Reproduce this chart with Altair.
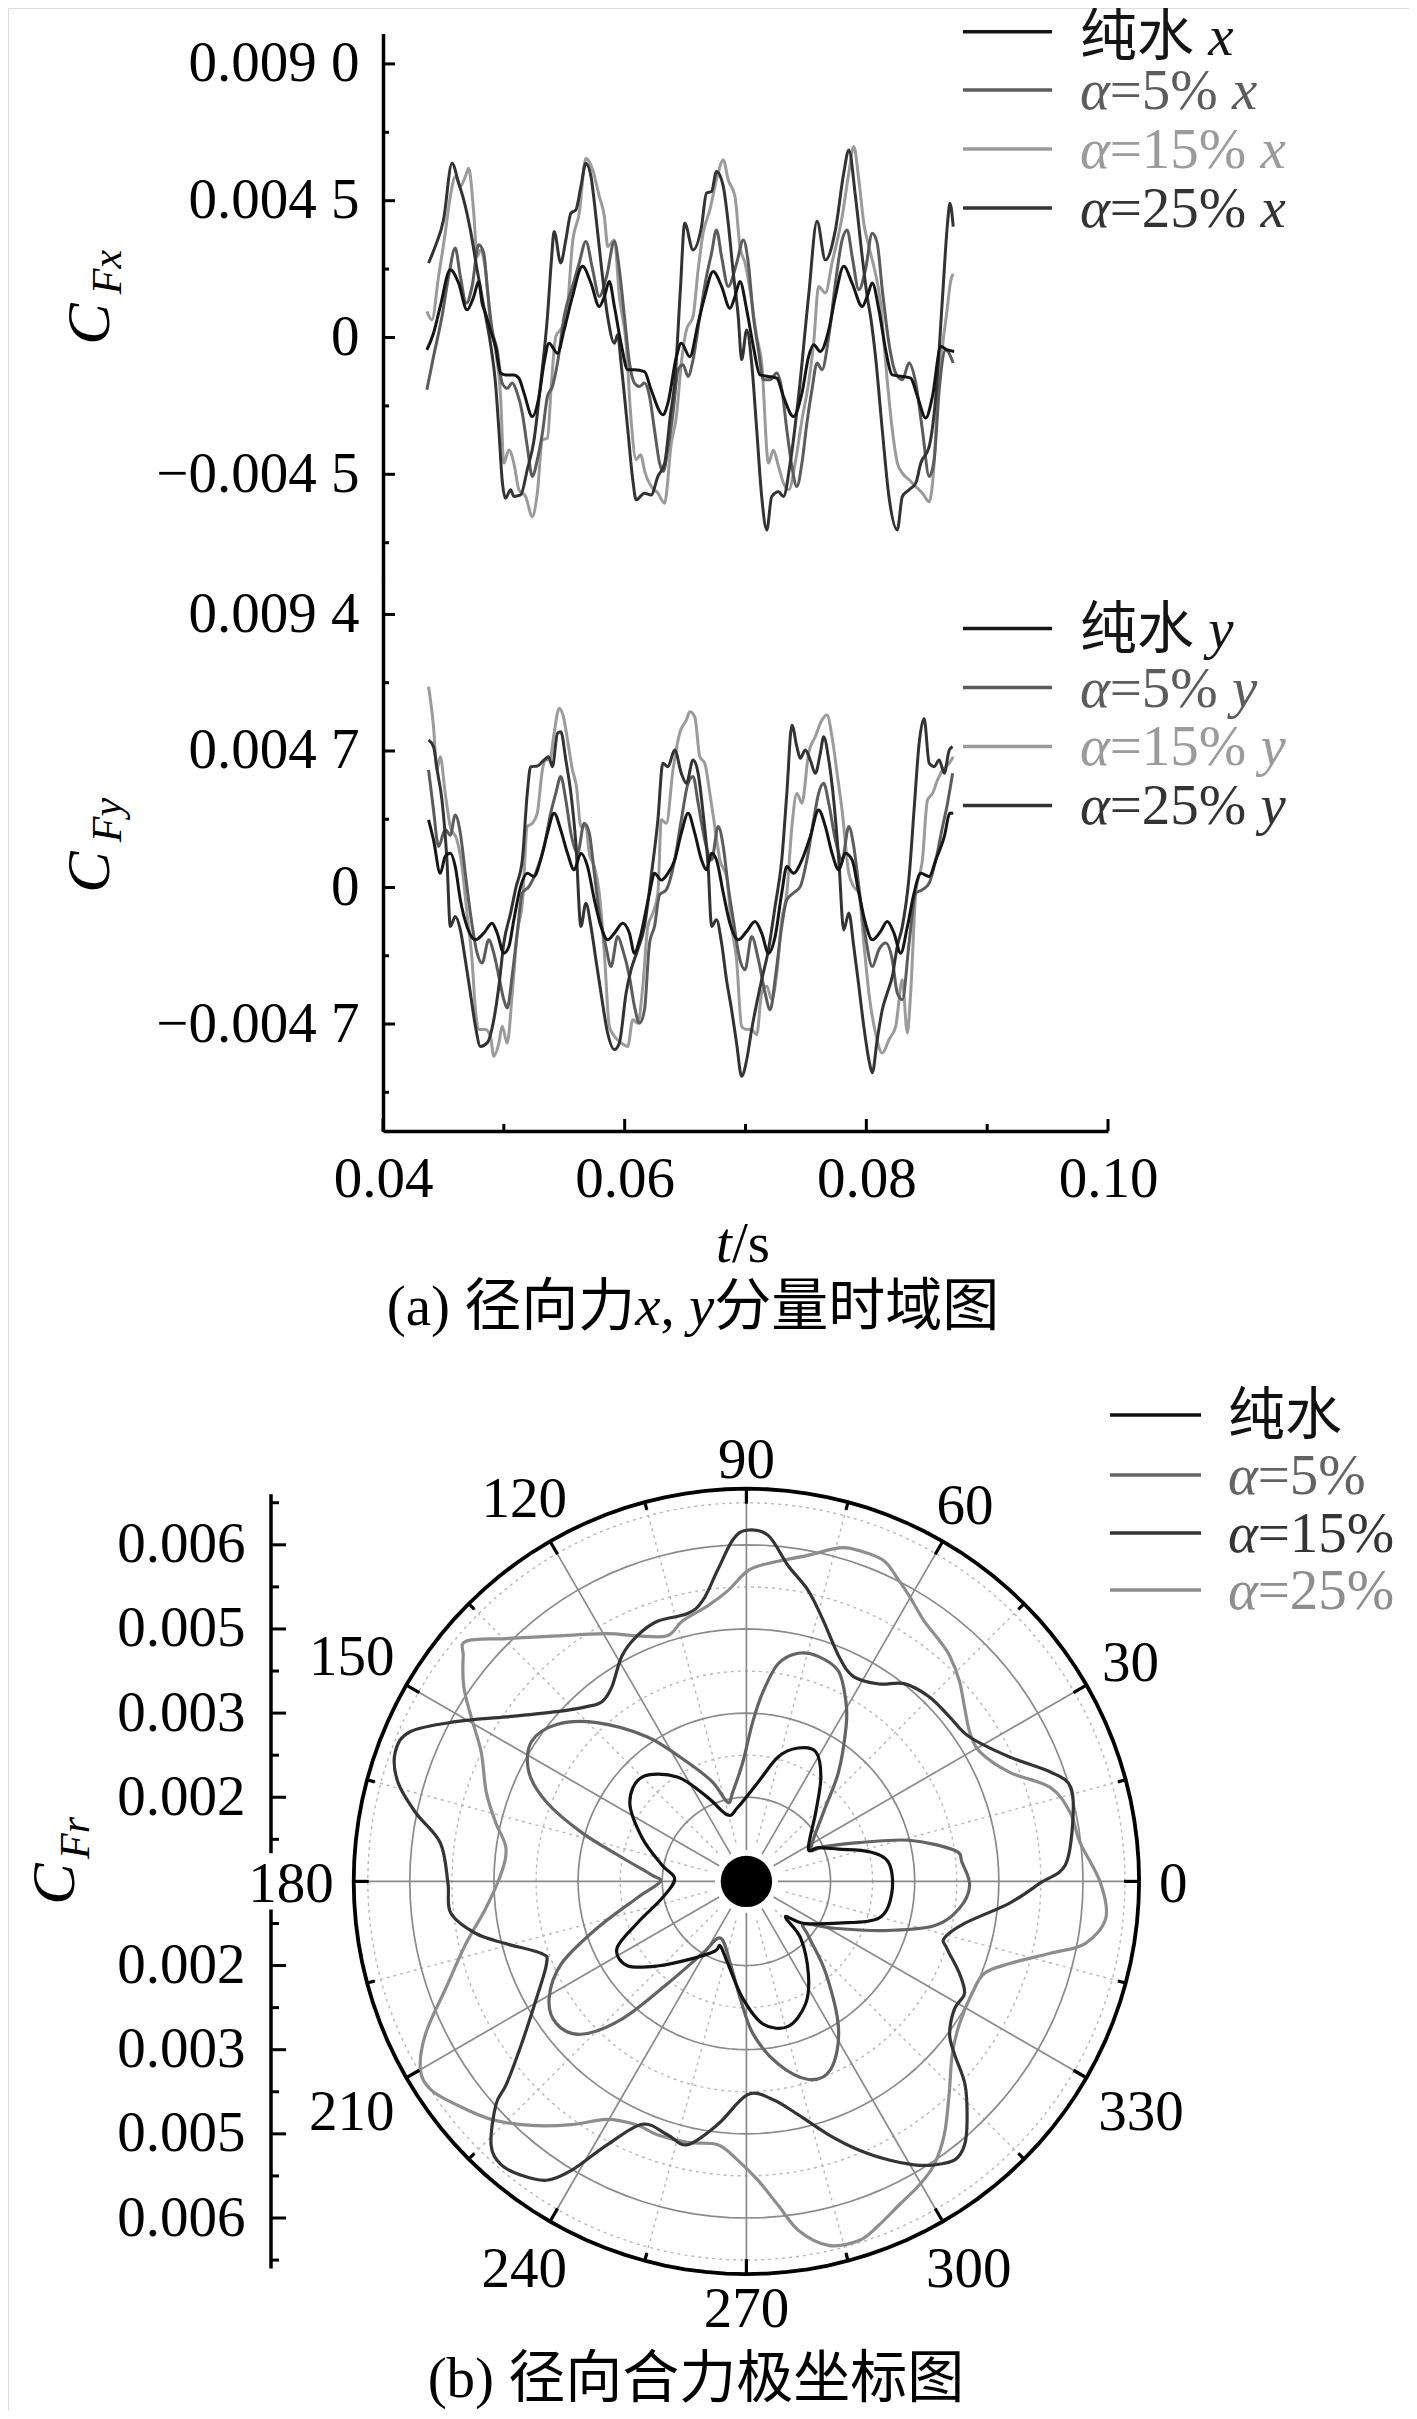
import altair as alt
import pandas as pd

# ---------------------------------------------------------------- data
# (a) time histories, pairs of (t [s], coefficient)
PURE_X = [(0.04363,-0.00041),(0.04418,0.00014),(0.04474,0.00102),(0.04557,0.00223),(0.04626,0.00179),(0.04695,0.00091),(0.04751,0.00135),(0.04792,0.00184),(0.04820,0.00113),(0.04848,0.00080),(0.04889,0.00025),(0.04931,-0.00030),(0.04973,-0.00117),(0.05014,-0.00123),(0.05083,-0.00123),(0.05125,-0.00134),(0.05167,-0.00183),(0.05236,-0.00260),(0.05291,-0.00194),(0.05333,-0.00084),(0.05374,-0.00019),(0.05444,-0.00052),(0.05499,0.00025),(0.05568,0.00135),(0.05651,0.00234),(0.05721,0.00179),(0.05790,0.00102),(0.05832,0.00135),(0.05873,0.00184),(0.05915,0.00102),(0.05970,-0.00019),(0.06026,-0.00106),(0.06081,-0.00106),(0.06164,-0.00112),(0.06219,-0.00172),(0.06317,-0.00254),(0.06358,-0.00216),(0.06428,-0.00063),(0.06469,-0.00019),(0.06539,-0.00063),(0.06608,0.00047),(0.06663,0.00135),(0.06732,0.00217),(0.06802,0.00168),(0.06871,0.00096),(0.06913,0.00135),(0.06954,0.00184),(0.07010,0.00091),(0.07065,-0.00030),(0.07120,-0.00123),(0.07190,-0.00128),(0.07259,-0.00134),(0.07314,-0.00194),(0.07397,-0.00260),(0.07467,-0.00183),(0.07522,-0.00063),(0.07564,-0.00024),(0.07619,-0.00046),(0.07689,0.00025),(0.07744,0.00135),(0.07813,0.00234),(0.07882,0.00179),(0.07966,0.00102),(0.08007,0.00135),(0.08049,0.00179),(0.08104,0.00091),(0.08160,-0.00041),(0.08215,-0.00123),(0.08298,-0.00128),(0.08367,-0.00134),(0.08423,-0.00194),(0.08492,-0.00265),(0.08547,-0.00194),(0.08617,-0.00030),(0.08672,-0.00041),(0.08727,-0.00046)]
A5_X = [(0.04363,-0.00172),(0.04418,-0.00063),(0.04488,0.00069),(0.04543,0.00201),(0.04598,0.00294),(0.04640,0.00201),(0.04690,0.00113),(0.04737,0.00168),(0.04792,0.00305),(0.04834,0.00277),(0.04862,0.00168),(0.04903,0.00025),(0.04945,-0.00041),(0.04986,-0.00150),(0.05028,-0.00167),(0.05070,-0.00150),(0.05111,-0.00183),(0.05153,-0.00249),(0.05194,-0.00359),(0.05236,-0.00457),(0.05277,-0.00402),(0.05319,-0.00315),(0.05361,-0.00194),(0.05402,-0.00161),(0.05444,-0.00084),(0.05499,0.00069),(0.05568,0.00168),(0.05624,0.00245),(0.05679,0.00316),(0.05735,0.00223),(0.05790,0.00135),(0.05850,0.00200),(0.05915,0.00316),(0.05956,0.00223),(0.05998,0.00069),(0.06040,-0.00084),(0.06081,-0.00150),(0.06123,-0.00161),(0.06164,-0.00150),(0.06206,-0.00194),(0.06247,-0.00304),(0.06289,-0.00413),(0.06320,-0.00440),(0.06360,-0.00360),(0.06400,-0.00249),(0.06442,-0.00106),(0.06483,-0.00090),(0.06525,-0.00128),(0.06566,-0.00073),(0.06622,0.00069),(0.06677,0.00201),(0.06719,0.00277),(0.06760,0.00354),(0.06802,0.00266),(0.06857,0.00168),(0.06927,0.00245),(0.06982,0.00321),(0.07023,0.00245),(0.07065,0.00069),(0.07107,-0.00041),(0.07148,-0.00139),(0.07204,-0.00139),(0.07259,-0.00117),(0.07301,-0.00172),(0.07342,-0.00304),(0.07384,-0.00424),(0.07425,-0.00490),(0.07467,-0.00413),(0.07508,-0.00282),(0.07550,-0.00172),(0.07592,-0.00084),(0.07633,-0.00106),(0.07689,0.00003),(0.07744,0.00179),(0.07800,0.00321),(0.07841,0.00354),(0.07883,0.00266),(0.07938,0.00157),(0.07993,0.00223),(0.08049,0.00343),(0.08090,0.00310),(0.08132,0.00157),(0.08187,-0.00019),(0.08243,-0.00117),(0.08298,-0.00139),(0.08354,-0.00084),(0.08409,-0.00150),(0.08464,-0.00304),(0.08520,-0.00457),(0.08561,-0.00402),(0.08603,-0.00172),(0.08658,-0.00041),(0.08719,-0.00084)]
A15_X = [(0.04363,0.00086),(0.04405,0.00058),(0.04460,0.00201),(0.04515,0.00343),(0.04557,0.00464),(0.04600,0.00530),(0.04640,0.00497),(0.04682,0.00530),(0.04709,0.00557),(0.04751,0.00409),(0.04779,0.00266),(0.04806,0.00288),(0.04848,0.00223),(0.04889,0.00047),(0.04931,-0.00041),(0.04973,-0.00194),(0.05000,-0.00413),(0.05042,-0.00370),(0.05083,-0.00413),(0.05125,-0.00501),(0.05180,-0.00523),(0.05236,-0.00589),(0.05277,-0.00512),(0.05319,-0.00337),(0.05361,-0.00331),(0.05394,-0.00150),(0.05430,0.00003),(0.05485,0.00036),(0.05527,0.00102),(0.05568,0.00310),(0.05624,0.00409),(0.05679,0.00590),(0.05735,0.00552),(0.05790,0.00464),(0.05832,0.00398),(0.05860,0.00299),(0.05915,0.00321),(0.05956,0.00135),(0.06012,-0.00019),(0.06053,-0.00271),(0.06095,-0.00402),(0.06131,-0.00386),(0.06170,-0.00446),(0.06220,-0.00490),(0.06275,-0.00512),(0.06330,-0.00545),(0.06386,-0.00348),(0.06428,-0.00260),(0.06469,-0.00084),(0.06511,0.00025),(0.06566,0.00069),(0.06608,0.00223),(0.06649,0.00343),(0.06705,0.00420),(0.06760,0.00519),(0.06816,0.00584),(0.06857,0.00519),(0.06913,0.00464),(0.06954,0.00299),(0.06996,0.00245),(0.07040,0.00150),(0.07093,0.00003),(0.07134,-0.00084),(0.07190,-0.00413),(0.07231,-0.00370),(0.07273,-0.00424),(0.07314,-0.00479),(0.07360,-0.00500),(0.07411,-0.00413),(0.07467,-0.00271),(0.07522,-0.00150),(0.07564,-0.00019),(0.07605,0.00168),(0.07661,0.00146),(0.07716,0.00245),(0.07800,0.00398),(0.07855,0.00541),(0.07896,0.00628),(0.07938,0.00519),(0.07979,0.00376),(0.08021,0.00299),(0.08070,0.00220),(0.08118,0.00113),(0.08160,-0.00084),(0.08215,-0.00304),(0.08257,-0.00413),(0.08298,-0.00446),(0.08354,-0.00468),(0.08409,-0.00490),(0.08464,-0.00512),(0.08520,-0.00540),(0.08560,-0.00420),(0.08590,-0.00200),(0.08630,-0.00030),(0.08665,0.00080),(0.08700,0.00190),(0.08719,0.00210)]
A25_X = [(0.04377,0.00245),(0.04432,0.00299),(0.04501,0.00387),(0.04571,0.00573),(0.04626,0.00508),(0.04668,0.00453),(0.04723,0.00354),(0.04779,0.00223),(0.04834,0.00102),(0.04889,-0.00019),(0.04931,-0.00150),(0.04959,-0.00304),(0.04986,-0.00468),(0.05014,-0.00529),(0.05056,-0.00501),(0.05083,-0.00523),(0.05139,-0.00518),(0.05194,-0.00435),(0.05250,-0.00337),(0.05305,-0.00150),(0.05361,0.00069),(0.05394,0.00255),(0.05416,0.00349),(0.05471,0.00245),(0.05513,0.00321),(0.05555,0.00409),(0.05596,0.00420),(0.05638,0.00497),(0.05679,0.00573),(0.05721,0.00530),(0.05762,0.00398),(0.05804,0.00245),(0.05859,0.00069),(0.05915,-0.00019),(0.05942,0.00009),(0.05970,-0.00084),(0.06026,-0.00304),(0.06067,-0.00468),(0.06095,-0.00534),(0.06164,-0.00512),(0.06219,-0.00518),(0.06275,-0.00457),(0.06331,-0.00413),(0.06380,-0.00250),(0.06414,-0.00150),(0.06460,0.00150),(0.06497,0.00376),(0.06566,0.00288),(0.06636,0.00365),(0.06677,0.00475),(0.06719,0.00480),(0.06760,0.00546),(0.06816,0.00497),(0.06857,0.00376),(0.06899,0.00212),(0.06940,0.00069),(0.06968,-0.00073),(0.07010,0.00025),(0.07051,-0.00084),(0.07093,-0.00304),(0.07134,-0.00523),(0.07176,-0.00633),(0.07217,-0.00523),(0.07273,-0.00507),(0.07314,-0.00523),(0.07370,-0.00413),(0.07439,-0.00194),(0.07522,0.00135),(0.07592,0.00382),(0.07661,0.00255),(0.07744,0.00354),(0.07813,0.00541),(0.07855,0.00617),(0.07910,0.00464),(0.07966,0.00266),(0.08007,0.00135),(0.08035,0.00069),(0.08076,-0.00063),(0.08132,-0.00304),(0.08187,-0.00523),(0.08256,-0.00633),(0.08298,-0.00523),(0.08354,-0.00501),(0.08409,-0.00479),(0.08451,-0.00413),(0.08520,-0.00359),(0.08575,-0.00194),(0.08631,0.00135),(0.08672,0.00376),(0.08692,0.00442),(0.08719,0.00365)]

PURE_Y = [(0.04377,0.00233),(0.04418,0.00164),(0.04474,0.00049),(0.04515,0.00107),(0.04557,0.00118),(0.04598,0.00072),(0.04640,-0.00042),(0.04695,-0.00134),(0.04765,-0.00180),(0.04834,-0.00157),(0.04903,-0.00123),(0.04945,-0.00157),(0.05000,-0.00226),(0.05042,-0.00203),(0.05083,-0.00111),(0.05139,0.00003),(0.05194,0.00049),(0.05250,0.00038),(0.05305,0.00095),(0.05361,0.00187),(0.05416,0.00256),(0.05471,0.00198),(0.05527,0.00118),(0.05582,0.00061),(0.05638,0.00118),(0.05693,0.00072),(0.05749,-0.00042),(0.05804,-0.00134),(0.05859,-0.00180),(0.05915,-0.00157),(0.05984,-0.00123),(0.06039,-0.00157),(0.06081,-0.00226),(0.06123,-0.00180),(0.06206,-0.00019),(0.06247,0.00049),(0.06303,0.00026),(0.06358,0.00049),(0.06414,0.00095),(0.06469,0.00187),(0.06525,0.00256),(0.06580,0.00187),(0.06636,0.00095),(0.06677,0.00061),(0.06719,0.00118),(0.06760,0.00095),(0.06816,-0.00019),(0.06871,-0.00123),(0.06940,-0.00180),(0.07010,-0.00151),(0.07079,-0.00117),(0.07134,-0.00157),(0.07190,-0.00226),(0.07245,-0.00169),(0.07300,-0.00019),(0.07342,0.00072),(0.07397,0.00049),(0.07467,0.00095),(0.07536,0.00175),(0.07605,0.00267),(0.07661,0.00210),(0.07716,0.00118),(0.07772,0.00061),(0.07827,0.00118),(0.07882,0.00095),(0.07938,-0.00019),(0.07993,-0.00123),(0.08049,-0.00180),(0.08118,-0.00151),(0.08173,-0.00117),(0.08229,-0.00157),(0.08284,-0.00226),(0.08340,-0.00134),(0.08395,-0.00019),(0.08451,0.00049),(0.08520,0.00038),(0.08575,0.00095),(0.08645,0.00175),(0.08692,0.00256),(0.08719,0.00256)]
A5_Y = [(0.04377,0.00405),(0.04418,0.00267),(0.04460,0.00141),(0.04515,0.00200),(0.04557,0.00180),(0.04598,0.00250),(0.04640,0.00187),(0.04681,0.00049),(0.04723,-0.00088),(0.04779,-0.00226),(0.04820,-0.00260),(0.04875,-0.00180),(0.04917,-0.00226),(0.04959,-0.00306),(0.05000,-0.00386),(0.05028,-0.00415),(0.05070,-0.00300),(0.05111,-0.00157),(0.05153,-0.00019),(0.05208,0.00003),(0.05263,0.00049),(0.05333,0.00141),(0.05388,0.00256),(0.05430,0.00324),(0.05471,0.00382),(0.05513,0.00301),(0.05555,0.00187),(0.05610,0.00118),(0.05665,0.00221),(0.05707,0.00187),(0.05749,0.00049),(0.05790,-0.00088),(0.05845,-0.00203),(0.05887,-0.00272),(0.05942,-0.00169),(0.05984,-0.00214),(0.06039,-0.00306),(0.06081,-0.00409),(0.06123,-0.00467),(0.06164,-0.00421),(0.06206,-0.00191),(0.06247,-0.00134),(0.06289,-0.00025),(0.06344,-0.00008),(0.06414,0.00095),(0.06469,0.00233),(0.06525,0.00359),(0.06566,0.00382),(0.06608,0.00290),(0.06663,0.00164),(0.06719,0.00095),(0.06774,0.00210),(0.06816,0.00141),(0.06857,0.00003),(0.06899,-0.00111),(0.06954,-0.00249),(0.06996,-0.00283),(0.07051,-0.00169),(0.07107,-0.00249),(0.07162,-0.00363),(0.07204,-0.00421),(0.07250,-0.00300),(0.07300,-0.00134),(0.07342,-0.00042),(0.07397,-0.00019),(0.07453,0.00003),(0.07508,0.00095),(0.07564,0.00233),(0.07605,0.00324),(0.07647,0.00359),(0.07689,0.00290),(0.07744,0.00164),(0.07799,0.00095),(0.07855,0.00210),(0.07896,0.00141),(0.07938,0.00003),(0.07993,-0.00169),(0.08049,-0.00272),(0.08104,-0.00214),(0.08160,-0.00191),(0.08215,-0.00249),(0.08256,-0.00363),(0.08298,-0.00386),(0.08354,-0.00191),(0.08409,-0.00019),(0.08464,-0.00008),(0.08520,0.00015),(0.08575,0.00095),(0.08631,0.00210),(0.08672,0.00290),(0.08714,0.00393)]
A15_Y = [(0.04377,0.00691),(0.04418,0.00554),(0.04446,0.00405),(0.04474,0.00450),(0.04515,0.00324),(0.04557,0.00210),(0.04612,0.00164),(0.04654,0.00072),(0.04695,-0.00088),(0.04737,-0.00249),(0.04765,-0.00421),(0.04792,-0.00489),(0.04848,-0.00489),(0.04889,-0.00512),(0.04917,-0.00581),(0.04959,-0.00535),(0.04986,-0.00478),(0.05028,-0.00535),(0.05070,-0.00363),(0.05111,-0.00157),(0.05153,-0.00054),(0.05194,0.00210),(0.05236,0.00221),(0.05277,0.00256),(0.05319,0.00405),(0.05347,0.00439),(0.05380,0.00440),(0.05416,0.00531),(0.05458,0.00617),(0.05499,0.00577),(0.05527,0.00508),(0.05568,0.00405),(0.05600,0.00350),(0.05638,0.00210),(0.05679,0.00210),(0.05707,0.00118),(0.05749,0.00072),(0.05790,-0.00019),(0.05832,-0.00226),(0.05873,-0.00478),(0.05915,-0.00512),(0.05970,-0.00535),(0.06026,-0.00547),(0.06067,-0.00455),(0.06109,-0.00467),(0.06150,-0.00340),(0.06192,-0.00134),(0.06233,-0.00088),(0.06275,-0.00019),(0.06303,0.00233),(0.06345,0.00221),(0.06400,0.00405),(0.06455,0.00531),(0.06511,0.00577),(0.06539,0.00605),(0.06580,0.00588),(0.06622,0.00450),(0.06663,0.00428),(0.06705,0.00324),(0.06746,0.00210),(0.06788,0.00095),(0.06843,0.00038),(0.06885,-0.00134),(0.06926,-0.00249),(0.06968,-0.00478),(0.07010,-0.00489),(0.07051,-0.00489),(0.07093,-0.00507),(0.07134,-0.00363),(0.07176,-0.00340),(0.07217,-0.00386),(0.07259,-0.00295),(0.07300,-0.00111),(0.07342,-0.00019),(0.07384,0.00210),(0.07425,0.00324),(0.07467,0.00290),(0.07522,0.00462),(0.07577,0.00519),(0.07633,0.00577),(0.07675,0.00594),(0.07716,0.00519),(0.07758,0.00393),(0.07799,0.00267),(0.07855,0.00049),(0.07896,0.00003),(0.07938,-0.00019),(0.07979,-0.00191),(0.08021,-0.00363),(0.08076,-0.00501),(0.08132,-0.00570),(0.08187,-0.00524),(0.08243,-0.00478),(0.08298,-0.00318),(0.08339,-0.00501),(0.08367,-0.00363),(0.08409,-0.00019),(0.08464,0.00095),(0.08506,0.00301),(0.08548,0.00324),(0.08589,0.00370),(0.08631,0.00405),(0.08686,0.00428),(0.08719,0.00450)]
A25_Y = [(0.04377,0.00508),(0.04418,0.00485),(0.04450,0.00400),(0.04488,0.00301),(0.04529,0.00095),(0.04557,-0.00134),(0.04598,-0.00100),(0.04640,-0.00146),(0.04681,-0.00249),(0.04723,-0.00363),(0.04765,-0.00478),(0.04806,-0.00547),(0.04862,-0.00535),(0.04917,-0.00455),(0.04959,-0.00340),(0.05000,-0.00191),(0.05056,-0.00088),(0.05100,0.00000),(0.05153,0.00095),(0.05194,0.00324),(0.05222,0.00416),(0.05277,0.00418),(0.05333,0.00439),(0.05370,0.00450),(0.05402,0.00416),(0.05444,0.00531),(0.05472,0.00536),(0.05513,0.00439),(0.05555,0.00324),(0.05596,0.00152),(0.05638,-0.00134),(0.05679,-0.00054),(0.05721,-0.00134),(0.05762,-0.00249),(0.05804,-0.00363),(0.05859,-0.00501),(0.05915,-0.00558),(0.05956,-0.00535),(0.06012,-0.00363),(0.06053,-0.00283),(0.06109,-0.00214),(0.06164,-0.00134),(0.06219,0.00038),(0.06275,0.00233),(0.06316,0.00428),(0.06358,0.00416),(0.06414,0.00473),(0.06469,0.00393),(0.06511,0.00359),(0.06566,0.00439),(0.06608,0.00393),(0.06649,0.00256),(0.06691,0.00072),(0.06719,-0.00134),(0.06760,-0.00111),(0.06802,-0.00191),(0.06843,-0.00318),(0.06885,-0.00421),(0.06926,-0.00535),(0.06968,-0.00650),(0.07010,-0.00593),(0.07051,-0.00489),(0.07093,-0.00398),(0.07134,-0.00318),(0.07190,-0.00214),(0.07245,-0.00065),(0.07300,0.00095),(0.07342,0.00324),(0.07384,0.00559),(0.07425,0.00485),(0.07453,0.00445),(0.07495,0.00473),(0.07536,0.00439),(0.07578,0.00393),(0.07619,0.00462),(0.07647,0.00519),(0.07689,0.00439),(0.07730,0.00301),(0.07772,0.00095),(0.07813,-0.00146),(0.07855,-0.00088),(0.07896,-0.00203),(0.07938,-0.00340),(0.07979,-0.00478),(0.08021,-0.00593),(0.08049,-0.00638),(0.08090,-0.00524),(0.08132,-0.00421),(0.08173,-0.00363),(0.08215,-0.00306),(0.08256,-0.00203),(0.08298,-0.00134),(0.08354,0.00038),(0.08395,0.00267),(0.08437,0.00496),(0.08478,0.00582),(0.08520,0.00428),(0.08561,0.00416),(0.08603,0.00439),(0.08645,0.00393),(0.08686,0.00473),(0.08714,0.00485)]

# (b) polar: angle [deg] and radial coefficient C_Fr
PURE_ANG = [7.4,13.6,19.3,25.1,27.9,44.8,54.4,61.8,68.8,75.7,83.3,96.6,105.7,114.8,123.5,135.0,145.9,157.2,169.2,178.0,191.2,200.9,207.4,215.3,223.5,235.0,245.8,247.9,257.2,268.3,276.7,286.1,295.9,303.9,313.7,317.7,323.7,335.6,344.5,355.4]
PURE_R = [0.00256,0.00225,0.00174,0.00142,0.00125,0.00174,0.00228,0.00262,0.00255,0.00229,0.00178,0.00133,0.00123,0.00165,0.00223,0.00263,0.00251,0.00202,0.00153,0.00128,0.00153,0.00208,0.00260,0.00260,0.00219,0.00168,0.00136,0.00124,0.00150,0.00209,0.00256,0.00269,0.00242,0.00198,0.00140,0.00094,0.00126,0.00180,0.00245,0.00260]
A5_ANG = [4.9,8.5,14.2,19.0,24.3,26.9,41.8,49.9,57.2,61.0,66.3,72.3,77.2,81.7,85.0,87.7,91.7,98.7,103.3,108.8,116.3,124.5,133.3,140.4,147.0,153.3,158.4,163.5,169.2,176.3,180.3,188.6,197.4,204.0,210.7,216.9,222.8,227.9,232.3,238.7,245.3,258.9,267.0,272.5,279.8,287.4,294.2,302.0,310.8,318.7,323.5,331.7,340.3,346.7,352.9,359.0]
A5_R = [0.00386,0.00375,0.00299,0.00212,0.00151,0.00129,0.00184,0.00255,0.00328,0.00366,0.00409,0.00421,0.00417,0.00392,0.00339,0.00285,0.00213,0.00161,0.00145,0.00187,0.00237,0.00313,0.00389,0.00439,0.00457,0.00434,0.00383,0.00306,0.00225,0.00168,0.00154,0.00197,0.00279,0.00361,0.00409,0.00423,0.00401,0.00330,0.00231,0.00150,0.00111,0.00149,0.00209,0.00272,0.00330,0.00370,0.00367,0.00310,0.00217,0.00147,0.00128,0.00176,0.00260,0.00344,0.00383,0.00398]
A15_ANG = [2.9,10.2,16.2,19.8,25.3,32.9,39.1,45.3,51.4,56.1,62.4,67.7,73.5,78.0,82.5,86.4,90.0,92.3,95.3,98.9,102.4,108.9,114.0,118.9,124.6,128.8,132.4,138.2,145.6,151.2,156.0,159.8,164.1,168.2,172.8,180.3,186.1,190.9,194.5,199.4,202.3,209.2,215.9,220.2,221.7,225.9,229.1,232.5,236.2,238.8,242.1,246.8,252.7,257.4,263.3,270.4,277.0,282.5,288.0,292.7,297.1,300.6,303.5,306.8,309.6,312.8,317.1,320.3,323.1,328.5,332.8,336.6,341.5,344.0,349.1,355.3,359.7]
A15_R = [0.00569,0.00591,0.00602,0.00576,0.00519,0.00474,0.00466,0.00463,0.00451,0.00424,0.00412,0.00434,0.00484,0.00530,0.00568,0.00618,0.00626,0.00609,0.00557,0.00506,0.00489,0.00490,0.00479,0.00459,0.00422,0.00411,0.00422,0.00454,0.00519,0.00591,0.00656,0.00667,0.00646,0.00603,0.00550,0.00532,0.00530,0.00491,0.00443,0.00387,0.00385,0.00429,0.00495,0.00560,0.00598,0.00654,0.00668,0.00660,0.00641,0.00602,0.00532,0.00471,0.00473,0.00481,0.00436,0.00380,0.00392,0.00426,0.00475,0.00519,0.00558,0.00587,0.00606,0.00620,0.00610,0.00579,0.00532,0.00482,0.00453,0.00435,0.00437,0.00414,0.00377,0.00367,0.00396,0.00471,0.00524]
A25_ANG = [6.6,12.0,17.2,22.5,29.0,33.8,38.7,43.2,47.9,51.2,55.7,60.3,63.1,66.8,71.3,74.5,79.2,86.1,89.7,93.7,98.0,103.8,107.9,114.0,119.4,127.7,134.7,139.4,141.5,145.4,149.1,154.0,161.1,166.8,172.0,178.0,185.9,192.5,199.6,205.4,210.0,213.4,217.5,223.0,228.6,234.3,239.6,245.8,250.6,257.3,263.8,268.2,272.2,275.6,278.5,282.7,287.4,291.0,295.2,299.6,303.5,308.0,313.6,320.0,326.2,333.5,338.9,342.7,346.7,349.6,354.2,359.8]
A25_R = [0.00599,0.00590,0.00567,0.00508,0.00476,0.00479,0.00498,0.00521,0.00541,0.00550,0.00562,0.00586,0.00601,0.00622,0.00623,0.00617,0.00592,0.00568,0.00554,0.00519,0.00496,0.00478,0.00460,0.00479,0.00507,0.00553,0.00609,0.00658,0.00645,0.00612,0.00572,0.00526,0.00490,0.00459,0.00433,0.00437,0.00467,0.00512,0.00569,0.00633,0.00671,0.00674,0.00653,0.00622,0.00580,0.00534,0.00492,0.00476,0.00479,0.00477,0.00472,0.00497,0.00533,0.00580,0.00629,0.00665,0.00671,0.00657,0.00638,0.00623,0.00606,0.00573,0.00524,0.00479,0.00457,0.00449,0.00455,0.00492,0.00557,0.00614,0.00644,0.00631]

# axis tick values
UP_MAJOR = [0.009, 0.0045, 0.0, -0.0045]
UP_MINOR = [0.00675, 0.00225, -0.00225, -0.00675]
LO_MAJOR = [0.0094, 0.0047, 0.0, -0.0047]
LO_MINOR = [0.00705, 0.00235, -0.00235, -0.00705]
T_MAJOR = [0.04, 0.06, 0.08, 0.10]
T_MINOR = [0.05, 0.07, 0.09]
R_MAJOR = [0.0015, 0.003, 0.0045, 0.006]
R_MINOR = [0.00075, 0.00225, 0.00375, 0.00525, 0.00675]
ANGLE_LABELS = list(range(0, 360, 30))

NAMES = ["纯水", "α=5%", "α=15%", "α=25%"]
TS_COLORS = ["#151515", "#5c5c5c", "#9b9b9b", "#333333"]
POLAR_COLORS = ["#111111", "#636363", "#343434", "#8d8d8d"]

# ---------------------------------------------------------------- layout
W, H = 1401, 2403
SERIF = "Liberation Serif"
MIX = "'Liberation Serif', 'Noto Sans CJK SC'"
FS = 57
PX_PER_UNIT = 56100.0  # polar pixels per unit of C_Fr

T_SCALE = alt.Scale(domain=[0.04, 0.10], range=[375, 1100], nice=False, zero=False)
YU_SCALE = alt.Scale(domain=[-0.008, 0.010], range=[572.7, 25.5], nice=False, zero=False)
YL_SCALE = alt.Scale(domain=[-0.0084, 0.0106], range=[1123.5, 571.6], nice=False, zero=False)
PX_SCALE = alt.Scale(domain=[-0.007, 0.007], range=[345.7, 1131.1], nice=False, zero=False)
PY_SCALE = alt.Scale(domain=[-0.007, 0.007], range=[2266.1, 1480.7], nice=False, zero=False)

ONE = alt.Data(values=[{"k": 1}])

Y_EXPR = ("datum.value == 0 ? '0' : (datum.value < 0 ? '\u2212' : '') + "
          "substring(format(abs(datum.value), '.4f'), 0, 5) + ' ' + "
          "substring(format(abs(datum.value), '.4f'), 5)")


def left_axis(values, offset, expr, padding, domain=True):
    return alt.Axis(orient="left", offset=offset, values=values, labelExpr=expr,
                    ticks=False, tickSize=0, domain=domain, domainColor="black",
                    domainWidth=3.5, grid=False, title=None, labelFont=SERIF,
                    labelFontSize=FS, labelColor="black", labelPadding=padding,
                    labelFlush=False, labelOverlap=False, labelBound=False,
                    labelLimit=1000)


def ts_frame(groups):
    rows = []
    for name, pairs in groups:
        for i, (t, v) in enumerate(pairs):
            rows.append({"series": name, "t": t, "v": v, "i": i})
    return pd.DataFrame(rows)


def polar_frame(groups):
    rows = []
    for name, angs, rs in groups:
        for i, (a, r) in enumerate(zip(angs, rs)):
            rows.append({"series": name, "a": a, "r": r, "i": i})
    return pd.DataFrame(rows)


CW = {"=": 0.564, "%": 0.833, " ": 0.25, ",": 0.25, "(": 0.333, ")": 0.333,
      "a": 0.444, "b": 0.5, "/": 0.278, "s": 0.389, "α": 0.52, "x": 0.444,
      "y": 0.444, "t": 0.278}


def text_width(s, size):
    w = 0.0
    for c in s:
        if c in CW:
            w += CW[c]
        elif c.isdigit():
            w += 0.5
        else:
            w += 1.0
    return w * size


def text_layer(s, x, y, size=FS, italic=False, color="black", align="left",
               baseline="middle", angle=None, font=MIX):
    kw = dict(font=font, fontSize=size, color=color, align=align, baseline=baseline)
    if italic:
        kw["fontStyle"] = "italic"
    if angle is not None:
        kw["angle"] = angle
    return alt.Chart(ONE).mark_text(**kw).encode(
        x=alt.value(x), y=alt.value(y), text=alt.value(s))


def rich_text(parts, x, y, color="black", size=FS, center=False):
    total = sum(text_width(p, size) for p, _ in parts)
    cur = x - total / 2 if center else x
    out = []
    for p, it in parts:
        out.append(text_layer(p, cur, y, size=size, italic=it, color=color))
        cur += text_width(p, size)
    return out


layers = []

# ---------------- (a) upper: x component
upper_df = ts_frame([("α=15%", A15_X), ("α=5%", A5_X), ("α=25%", A25_X), ("纯水", PURE_X)])
layers.append(
    alt.Chart(upper_df).mark_line(strokeWidth=3, interpolate="monotone", strokeJoin="round").encode(
        x=alt.X("t:Q", scale=T_SCALE, axis=None),
        y=alt.Y("v:Q", scale=YU_SCALE, axis=left_axis(UP_MAJOR, -375, Y_EXPR, 24)),
        color=alt.Color("series:N", scale=alt.Scale(domain=NAMES, range=TS_COLORS), legend=None),
        detail="series:N",
    )
)

# ---------------- (a) lower: y component
lower_df = ts_frame([("α=15%", A15_Y), ("α=5%", A5_Y), ("α=25%", A25_Y), ("纯水", PURE_Y)])
layers.append(
    alt.Chart(lower_df).mark_line(strokeWidth=3, interpolate="monotone", strokeJoin="round").encode(
        x=alt.X("t:Q", scale=T_SCALE, axis=alt.Axis(
            orient="bottom", offset=-(H - 1123), values=T_MAJOR,
            labelExpr="format(datum.value, '.2f')", ticks=False, tickSize=0,
            domainColor="black", domainWidth=3.5, grid=False, title=None,
            labelFont=SERIF, labelFontSize=FS, labelColor="black", labelPadding=20,
            labelFlush=False, labelOverlap=False, labelBound=False, labelLimit=1000)),
        y=alt.Y("v:Q", scale=YL_SCALE, axis=left_axis(LO_MAJOR, -375, Y_EXPR, 24)),
        color=alt.Color("series:N", scale=alt.Scale(domain=NAMES, range=TS_COLORS), legend=None),
        detail="series:N",
    )
)


def yticks(vals, scale, x0, length):
    return alt.Chart(pd.DataFrame({"v": vals})).mark_rule(color="black", strokeWidth=3).encode(
        y=alt.Y("v:Q", scale=scale, axis=None), x=alt.value(x0), x2=alt.value(x0 + length))


layers += [yticks(UP_MAJOR, YU_SCALE, 375, 12), yticks(UP_MINOR, YU_SCALE, 375, 6),
           yticks(LO_MAJOR, YL_SCALE, 375, 12), yticks(LO_MINOR, YL_SCALE, 375, 6)]


def xticks(vals, length):
    return alt.Chart(pd.DataFrame({"t": vals})).mark_rule(color="black", strokeWidth=3).encode(
        x=alt.X("t:Q", scale=T_SCALE, axis=None), y=alt.value(1123), y2=alt.value(1123 - length))


layers += [xticks(T_MAJOR, 12), xticks(T_MINOR, 7)]

# axis titles C_Fx, C_Fy
layers += [text_layer("C", 82, 316, size=62, italic=True, angle=270, align="center", font=SERIF),
           text_layer("Fx", 100, 264, size=42, italic=True, angle=270, align="center", font=SERIF),
           text_layer("C", 82, 864, size=62, italic=True, angle=270, align="center", font=SERIF),
           text_layer("Fy", 100, 812, size=42, italic=True, angle=270, align="center", font=SERIF)]

# legends of (a)
UP_Y = [23.7, 82, 141, 200]
LO_Y = [620.6, 679.5, 738.4, 797.4]
for ys, comp in ((UP_Y, "x"), (LO_Y, "y")):
    for k, (name, col) in enumerate(zip(NAMES, TS_COLORS)):
        layers.append(alt.Chart(ONE).mark_rule(color=col, strokeWidth=3.5).encode(
            x=alt.value(955), x2=alt.value(1044), y=alt.value(ys[k])))
        if k == 0:
            parts = [("纯水 ", False), (comp, True)]
        else:
            parts = [("α", True), (name[1:] + " ", False), (comp, True)]
        dy = 6 if (comp == "x" and k == 0) else 2
        layers += rich_text(parts, 1072, ys[k] + dy, color=col)

# t/s and caption (a)
layers += rich_text([("t", True), ("/s", False)], 735, 1237, center=True)
layers += rich_text([("(a) 径向力", False), ("x", True), (", ", False), ("y", True),
                     ("分量时域图", False)], 685, 1300, center=True)

# ---------------- (b) polar
def ring_frame(radii, step=3):
    return pd.DataFrame([{"ring": r, "a": a} for r in radii for a in range(0, 361, step)])


def ring_layer(radii, color, width, dash=None):
    kw = dict(color=color, strokeWidth=width)
    if dash:
        kw["strokeDash"] = dash
    return alt.Chart(ring_frame(radii)).transform_calculate(
        px="datum.ring * cos(datum.a * PI / 180)", py="datum.ring * sin(datum.a * PI / 180)"
    ).mark_line(**kw).encode(
        x=alt.X("px:Q", scale=PX_SCALE, axis=None), y=alt.Y("py:Q", scale=PY_SCALE, axis=None),
        detail="ring:N", order="a:Q")


def spoke_layer(angles, r0, r1_expr, color, width, dash=None):
    kw = dict(color=color, strokeWidth=width)
    if dash:
        kw["strokeDash"] = dash
    return alt.Chart(pd.DataFrame({"a": angles})).transform_calculate(
        r1=r1_expr,
        x0=f"{r0} * cos(datum.a * PI / 180)", y0=f"{r0} * sin(datum.a * PI / 180)",
        x1="datum.r1 * cos(datum.a * PI / 180)", y1="datum.r1 * sin(datum.a * PI / 180)"
    ).mark_rule(**kw).encode(
        x=alt.X("x0:Q", scale=PX_SCALE, axis=None), y=alt.Y("y0:Q", scale=PY_SCALE, axis=None),
        x2="x1:Q", y2="y1:Q")


layers.append(ring_layer(R_MINOR[1:], "#b8b8b8", 1.4, dash=[3, 4]))
layers.append(spoke_layer(list(range(15, 360, 30)), 0.00072, "0.007", "#b8b8b8", 1.4, dash=[3, 4]))
layers.append(ring_layer(R_MAJOR, "#8a8a8a", 1.7))
layers.append(spoke_layer(list(range(0, 360, 30)), 0.00056, "0.007", "#8a8a8a", 1.7))

polar_df = polar_frame([("α=25%", A25_ANG, A25_R), ("α=15%", A15_ANG, A15_R),
                        ("α=5%", A5_ANG, A5_R), ("纯水", PURE_ANG, PURE_R)])
layers.append(
    alt.Chart(polar_df).transform_calculate(
        px="datum.r * cos(datum.a * PI / 180)", py="datum.r * sin(datum.a * PI / 180)"
    ).mark_line(strokeWidth=3.2, interpolate="cardinal-closed", strokeJoin="round").encode(
        x=alt.X("px:Q", scale=PX_SCALE, axis=None), y=alt.Y("py:Q", scale=PY_SCALE, axis=None),
        color=alt.Color("series:N", scale=alt.Scale(domain=NAMES, range=POLAR_COLORS), legend=None),
        detail="series:N", order="i:Q")
)

# outer circle + its ticks
layers.append(ring_layer([0.007], "black", 3.8))
layers.append(spoke_layer(list(range(0, 360, 30)), 0.007, f"0.007 - 15 / {PX_PER_UNIT}", "black", 3.2))
layers.append(spoke_layer(list(range(15, 360, 30)), 0.007, f"0.007 - 8 / {PX_PER_UNIT}", "black", 3.2))

# centre dot
layers.append(alt.Chart(pd.DataFrame({"px": [0.0], "py": [0.0]})).mark_point(
    filled=True, size=2642, color="black", opacity=1, shape="circle").encode(
    x=alt.X("px:Q", scale=PX_SCALE, axis=None), y=alt.Y("py:Q", scale=PY_SCALE, axis=None)))

# angle labels
lab_df = pd.DataFrame({"a": ANGLE_LABELS, "lab": [str(a) for a in ANGLE_LABELS]})
layers.append(
    alt.Chart(lab_df).transform_calculate(
        off="20 + abs(cos(datum.a * PI / 180)) * length(datum.lab) * 14.25 + abs(sin(datum.a * PI / 180)) * 12",
        rr=f"0.007 + datum.off / {PX_PER_UNIT}",
        px="datum.rr * cos(datum.a * PI / 180)", py="datum.rr * sin(datum.a * PI / 180)"
    ).mark_text(font=SERIF, fontSize=FS, color="black", align="center", baseline="middle",
                dy=4).encode(
        x=alt.X("px:Q", scale=PX_SCALE, axis=None), y=alt.Y("py:Q", scale=PY_SCALE, axis=None),
        text="lab:N")
)

# radial axis (left)
R_LABELS = [-v for v in R_MAJOR] + R_MAJOR
layers.append(
    alt.Chart(pd.DataFrame({"a": [0.0005, -0.0069], "b": [0.0069, -0.0005]})).mark_rule(
        color="black", strokeWidth=3.5).encode(
        y=alt.Y("a:Q", scale=PY_SCALE, axis=None), y2="b:Q", x=alt.value(263))
)
layers.append(
    alt.Chart(pd.DataFrame({"v": R_LABELS})).mark_rule(color="black", strokeWidth=3).encode(
        y=alt.Y("v:Q", scale=PY_SCALE, axis=left_axis(
            R_LABELS, -263, "format(abs(datum.value) + 0.0001, '.3f')", 26, domain=False)),
        x=alt.value(263), x2=alt.value(278))
)
layers.append(
    alt.Chart(pd.DataFrame({"v": [-v for v in R_MINOR] + R_MINOR})).mark_rule(
        color="black", strokeWidth=3).encode(
        y=alt.Y("v:Q", scale=PY_SCALE, axis=None), x=alt.value(263), x2=alt.value(271))
)
layers += [text_layer("C", 47, 1876, size=62, italic=True, angle=270, align="center", font=SERIF),
           text_layer("Fr", 68, 1830, size=42, italic=True, angle=270, align="center", font=SERIF)]

# polar legend
PL_Y = [1407, 1467, 1525, 1582]
for k, (name, col) in enumerate(zip(NAMES, POLAR_COLORS)):
    layers.append(alt.Chart(ONE).mark_rule(color=col, strokeWidth=3.5).encode(
        x=alt.value(1102), x2=alt.value(1193), y=alt.value(PL_Y[k])))
    parts = [("纯水", False)] if k == 0 else [("α", True), (name[1:], False)]
    layers += rich_text(parts, 1220, PL_Y[k] + 2, color=col)

# caption (b)
layers.append(text_layer("(b) 径向合力极坐标图", 688, 2372, align="center"))

chart = alt.layer(*layers).resolve_scale(
    x="independent", y="independent", color="independent"
).properties(
    width=W, height=H, padding=0, autosize=alt.AutoSizeParams(type="none")
).configure_view(stroke=None).configure(background="white")

chart.save("out.html", embed_options={"renderer": "svg", "actions": False})
